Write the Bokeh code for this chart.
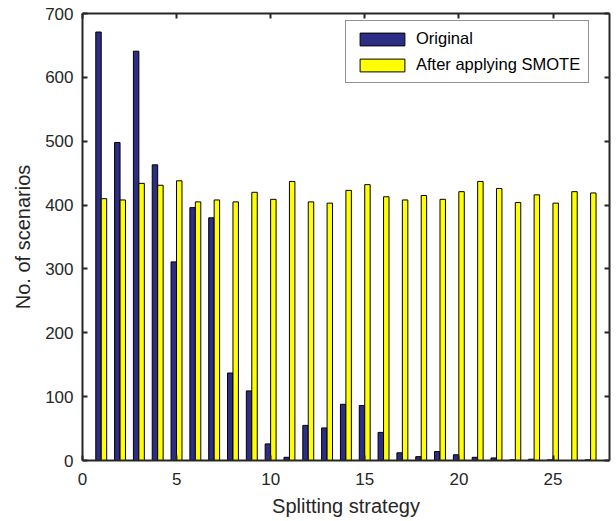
from bokeh.plotting import figure
from bokeh.models import (ColumnDataSource, LinearAxis, Range1d, Legend,
                          LegendItem, FixedTicker)
from bokeh.transform import dodge
from bokeh.embed import file_html
from bokeh.resources import INLINE

# Number of scenarios per splitting strategy, before and after SMOTE
strategy = list(range(1, 28))
original = [671, 498, 641, 463, 311, 396, 380, 137, 109, 26, 5, 55, 51, 88,
            86, 44, 12, 6, 14, 9, 5, 4, 1, 2, 1, 0, 1]
smote = [410, 408, 434, 431, 438, 405, 408, 405, 420, 409, 437, 405, 403, 423,
         432, 413, 408, 415, 409, 421, 437, 426, 404, 416, 403, 421, 419]
x_ticks = [0, 5, 10, 15, 20, 25]
y_ticks = [0, 100, 200, 300, 400, 500, 600, 700]

FONT = "Liberation Sans"
INK = "#262626"

src = ColumnDataSource(dict(strategy=strategy, original=original, smote=smote))

p = figure(width=616, height=521, x_range=Range1d(0, 28), y_range=Range1d(0, 700),
           output_backend="svg", toolbar_location=None,
           min_border_left=82, min_border_right=7, min_border_top=13,
           min_border_bottom=61, x_axis_location=None, y_axis_location=None)
p.grid.visible = False
p.outline_line_color = None
p.background_fill_color = "white"
p.border_fill_color = "white"

bar_w = 0.29
r_orig = p.vbar(x=dodge("strategy", -0.15, range=p.x_range), top="original",
                width=bar_w, source=src, fill_color="#2e2d86",
                line_color="black", line_width=1)
r_smote = p.vbar(x=dodge("strategy", 0.14, range=p.x_range), top="smote",
                 width=bar_w, source=src, fill_color="#ffff00",
                 line_color="black", line_width=1)


def style_axis(ax, ticks, show_labels):
    ax.ticker = FixedTicker(ticks=ticks)
    ax.axis_line_color = INK
    ax.axis_line_width = 2
    ax.major_tick_line_color = INK
    ax.major_tick_line_width = 2
    ax.major_tick_in = 5
    ax.major_tick_out = 0
    ax.minor_tick_line_color = None
    ax.major_label_text_font = FONT
    ax.major_label_text_color = INK
    if show_labels:
        ax.major_label_text_font_size = "17px"
    else:
        # mirror axes on top/right: ticks only
        ax.major_label_text_font_size = "0px"
        ax.major_label_standoff = 0


xb = LinearAxis(axis_label="Splitting strategy")
style_axis(xb, x_ticks, True)
xb.major_label_standoff = 12
xb.axis_label_standoff = 7
xb.axis_label_text_font = FONT
xb.axis_label_text_font_size = "20px"
xb.axis_label_text_font_style = "normal"
xb.axis_label_text_color = INK
p.add_layout(xb, "below")

yl = LinearAxis(axis_label="No. of scenarios")
style_axis(yl, y_ticks, True)
yl.major_label_standoff = 9
yl.axis_label_standoff = 8
yl.axis_label_text_font = FONT
yl.axis_label_text_font_size = "20px"
yl.axis_label_text_font_style = "normal"
yl.axis_label_text_color = INK
p.add_layout(yl, "left")

xt = LinearAxis()
style_axis(xt, x_ticks, False)
p.add_layout(xt, "above")

yr = LinearAxis()
style_axis(yr, y_ticks, False)
p.add_layout(yr, "right")

legend = Legend(items=[LegendItem(label="Original", renderers=[r_orig]),
                       LegendItem(label="After applying SMOTE", renderers=[r_smote])],
                location=(263, 377), orientation="vertical",
                glyph_width=56, glyph_height=16, label_height=16,
                spacing=7, padding=8, margin=0, label_standoff=6,
                label_text_font=FONT, label_text_font_size="16.5px",
                label_text_color="black",
                border_line_color=INK, border_line_width=1,
                background_fill_color="white", background_fill_alpha=1)
p.add_layout(legend, "center")

open("out.html", "w").write(file_html(p, INLINE))
